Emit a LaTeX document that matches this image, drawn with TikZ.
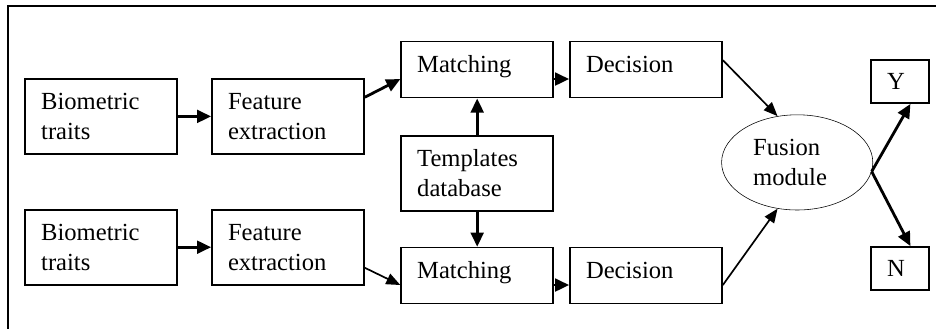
\documentclass[tikz,border=0pt]{standalone}
\usepackage{fontspec}
\setmainfont{Liberation Serif}
\usetikzlibrary{arrows.meta,shapes.geometric}
\begin{document}
\begin{tikzpicture}[
    font=\fontsize{17.5}{21.3}\selectfont,
    blk/.style={draw=black,line width=1.2pt,align=left,text width=3cm,inner xsep=0.4cm,minimum height=1.875cm},
    blks/.style={blk,minimum height=1.4cm,text height=0.4cm,text depth=0.25cm},
    outbox/.style={draw=black,line width=1.2pt,align=left,text width=0.65cm,inner xsep=0.4cm,minimum height=1.075cm},
    arr/.style={-{Triangle[length=10pt,width=9pt]},line width=2pt},
    tarr/.style={-{Triangle[length=10pt,width=8pt]},line width=1.2pt}
  ]
    \clip (0,0) rectangle (23.4,-8.225);
    \draw[line width=1.2pt] (0.2,-0.15) rectangle (24,-9);

    \node[blk] (bio1) at (2.53,-2.91) {Biometric\\traits};
    \node[blk] (feat1) at (7.2,-2.91) {Feature\\extraction};
    \node[blk] (bio2) at (2.53,-6.18) {Biometric\\traits};
    \node[blk] (feat2) at (7.2,-6.18) {Feature\\extraction};
    \node[blks] (match1) at (11.93,-1.74) {Matching};
    \node[blk] (tmpl) at (11.93,-4.33) {Templates\\database};
    \node[blks] (match2) at (11.93,-6.89) {Matching};
    \node[blks] (dec1) at (16.15,-1.74) {Decision};
    \node[blks] (dec2) at (16.15,-6.89) {Decision};
    \node[shape=ellipse,draw=black,thin,inner sep=0pt,align=left,text width=2.2cm,
          minimum width=3.78cm,minimum height=2.38cm] (fusion) at (19.93,-4.06) {Fusion\\module};
    \node[outbox] (Y) at (22.5,-2.04) {Y};
    \node[outbox] (N) at (22.5,-6.71) {N};

    \path [arr] (bio1) edge (feat1);
    \path [arr] (bio2) edge (feat2);
    \path [arr] (feat1.14) edge (match1.187);
    \path [tarr] (feat2.345) edge (match2.187);
    \path [arr] (tmpl) edge (match1);
    \path [arr] (tmpl) edge (match2);
    \path [arr] (match1.353) edge (dec1.187);
    \path [arr] (match2.353) edge (dec2.187);
    \path [tarr] (dec1.7) edge (fusion.113);
    \path [tarr] (dec2.353) edge (fusion.247);
    \path [arr] (fusion.353) edge (Y.295);
    \path [arr] (fusion.353) edge (N.65);
\end{tikzpicture}
\end{document}
